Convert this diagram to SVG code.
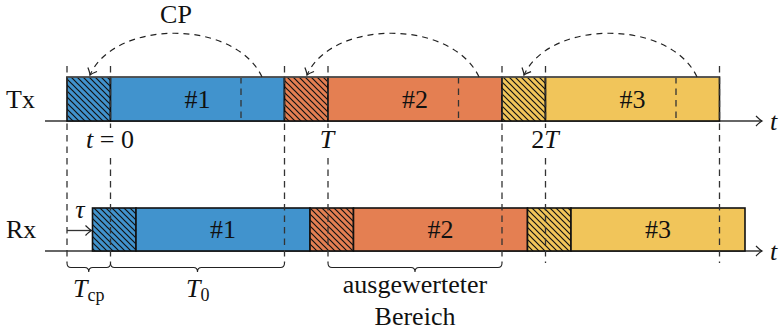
<svg xmlns="http://www.w3.org/2000/svg" width="781" height="332" viewBox="0 0 781 332">
<defs>
<pattern id="hatch" width="6" height="6" patternUnits="userSpaceOnUse">
<path d="M-1,-1 L7,7 M-1,5 L1,7 M5,-1 L7,1" stroke="#111" stroke-width="1.2" fill="none"/>
</pattern>
<marker id="open" viewBox="-8 -6 10 12" markerWidth="10" markerHeight="12" refX="0" refY="0" orient="auto" markerUnits="userSpaceOnUse">
<path d="M-6,-5 Q-2,-1 0,0 Q-2,1 -6,5" fill="none" stroke="#222" stroke-width="1.2"/>
</marker>
</defs>
<style>
.txt{font-family:"Liberation Serif","Times New Roman",serif;font-size:26px;fill:#111}
.it{font-style:italic}
.sub{font-size:18px}
.blue{fill:#4193CD}
.orange{fill:#E47F52}
.yellow{fill:#F1C55A}
.box{stroke:#111;stroke-width:1.6}
.hat{fill:url(#hatch)}
.dash{stroke:#333;stroke-width:1.3;stroke-dasharray:6.5 5;fill:none}
.axis{stroke:#333;stroke-width:1.3;fill:none}
.arc{stroke:#222;stroke-width:1.2;stroke-dasharray:6 5;fill:none}
.brace{stroke:#222;stroke-width:1.1;fill:none}
.bg{fill:#fff}
</style>
<rect width="781" height="332" fill="#fff"/>

<!-- axes -->
<g id="axes">
<path class="axis" d="M45,121 H762" marker-end="url(#open)"/>
<path class="axis" d="M45,251 H762" marker-end="url(#open)"/>
<text class="txt it" x="770" y="130">t</text>
<text class="txt it" x="770" y="260">t</text>
</g>

<!-- row labels -->
<text class="txt" x="6" y="108">Tx</text>
<text class="txt" x="6" y="238">Rx</text>

<!-- Tx symbols -->
<g id="tx-cp1"><rect class="blue box" x="67" y="77" width="43.5" height="44"/><rect class="hat" x="67" y="77" width="43.5" height="44"/></g>
<g id="tx-sym1"><rect class="blue box" x="110.5" y="77" width="174" height="44"/><line class="dash" x1="241" y1="77" x2="241" y2="121"/><text class="txt" x="197.5" y="108" text-anchor="middle">#1</text></g>
<g id="tx-cp2"><rect class="orange box" x="284.5" y="77" width="43.5" height="44"/><rect class="hat" x="284.5" y="77" width="43.5" height="44"/></g>
<g id="tx-sym2"><rect class="orange box" x="328" y="77" width="174" height="44"/><line class="dash" x1="458.5" y1="77" x2="458.5" y2="121"/><text class="txt" x="415" y="108" text-anchor="middle">#2</text></g>
<g id="tx-cp3"><rect class="yellow box" x="502" y="77" width="43.5" height="44"/><rect class="hat" x="502" y="77" width="43.5" height="44"/></g>
<g id="tx-sym3"><rect class="yellow box" x="545.5" y="77" width="174" height="44"/><line class="dash" x1="676" y1="77" x2="676" y2="121"/><text class="txt" x="632.5" y="108" text-anchor="middle">#3</text></g>
<line x1="67" y1="77" x2="719.5" y2="77" stroke="#777" stroke-width="1.2"/>

<!-- Rx symbols -->
<g id="rx-cp1"><rect class="blue box" x="92.5" y="208" width="43.5" height="43"/><rect class="hat" x="92.5" y="208" width="43.5" height="43"/></g>
<g id="rx-sym1"><rect class="blue box" x="136" y="208" width="174" height="43"/><text class="txt" x="223" y="238" text-anchor="middle">#1</text></g>
<g id="rx-cp2"><rect class="orange box" x="310" y="208" width="43.5" height="43"/><rect class="hat" x="310" y="208" width="43.5" height="43"/></g>
<g id="rx-sym2"><rect class="orange box" x="353.5" y="208" width="174" height="43"/><text class="txt" x="440.5" y="238" text-anchor="middle">#2</text></g>
<g id="rx-cp3"><rect class="yellow box" x="527.5" y="208" width="43.5" height="43"/><rect class="hat" x="527.5" y="208" width="43.5" height="43"/></g>
<g id="rx-sym3"><rect class="yellow box" x="571" y="208" width="174" height="43"/><text class="txt" x="658" y="238" text-anchor="middle">#3</text></g>

<!-- guide lines -->
<g id="guides">
<line class="dash" x1="67" y1="66" x2="67" y2="263"/>
<line class="dash" x1="110.5" y1="66" x2="110.5" y2="263"/>
<line class="dash" x1="284.5" y1="66" x2="284.5" y2="263"/>
<line class="dash" x1="328" y1="66" x2="328" y2="263"/>
<line class="dash" x1="502" y1="66" x2="502" y2="263"/>
<line class="dash" x1="545.5" y1="66" x2="545.5" y2="263"/>
<line class="dash" x1="719.5" y1="66" x2="719.5" y2="263"/>
</g>

<!-- connectors -->
<g id="connectors">
<path class="arc" d="M262,77 C235,19 115,19 90,75" marker-end="url(#open)"/>
<path class="arc" d="M479,77 C452,19 332,19 307,75" marker-end="url(#open)"/>
<path class="arc" d="M697,77 C670,19 550,19 524,75" marker-end="url(#open)"/>
<path class="axis" d="M67,230.5 H91.5" marker-end="url(#open)"/>
<path class="brace" d="M67,263 Q67,267.5 71,267.5 L84.75,267.5 Q88.75,267.5 88.75,272 Q88.75,267.5 92.75,267.5 L106.5,267.5 Q110.5,267.5 110.5,263"/>
<path class="brace" d="M110.5,263 Q110.5,267.5 114.5,267.5 L193.5,267.5 Q197.5,267.5 197.5,272 Q197.5,267.5 201.5,267.5 L280.5,267.5 Q284.5,267.5 284.5,263"/>
<path class="brace" d="M328,263 Q328,267.5 332,267.5 L411,267.5 Q415,267.5 415,272 Q415,267.5 419,267.5 L498,267.5 Q502,267.5 502,263"/>
</g>

<!-- labels -->
<text class="txt" x="176" y="23" text-anchor="middle">CP</text>
<g id="lbl-t0"><rect class="bg" x="82" y="128" width="57" height="26"/><text class="txt" x="110" y="148" text-anchor="middle"><tspan class="it">t</tspan> = 0</text></g>
<g id="lbl-T"><rect class="bg" x="316" y="128" width="22" height="26"/><text class="txt it" x="327" y="148" text-anchor="middle">T</text></g>
<g id="lbl-2T"><rect class="bg" x="529" y="128" width="34" height="26"/><text class="txt" x="545" y="148" text-anchor="middle">2<tspan class="it">T</tspan></text></g>
<text class="txt it" x="80" y="218" text-anchor="middle">τ</text>
<text class="txt" x="73" y="297"><tspan class="it">T</tspan><tspan class="sub" dy="4">cp</tspan></text>
<text class="txt" x="186" y="297"><tspan class="it">T</tspan><tspan class="sub" dy="4">0</tspan></text>
<text class="txt" x="415" y="293" text-anchor="middle">ausgewerteter</text>
<text class="txt" x="415" y="325" text-anchor="middle">Bereich</text>
</svg>
